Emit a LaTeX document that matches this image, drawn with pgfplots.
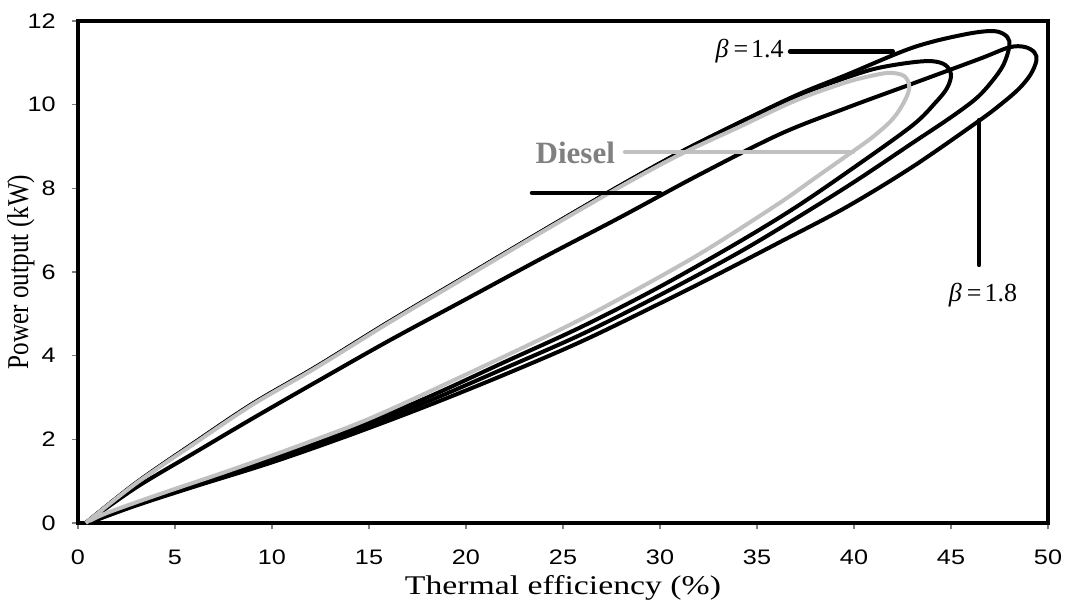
\documentclass[border=0pt]{standalone}
\usepackage{pgfplots}
\pgfplotsset{compat=1.18}
\usepackage{fontspec}
\setmainfont{Liberation Serif}
\newfontfamily\arial{Liberation Sans}
\definecolor{lgray}{RGB}{192,192,192}
\definecolor{tgray}{RGB}{128,128,128}
\begin{document}
\begin{tikzpicture}
\begin{axis}[
  width=485pt, height=251pt, scale only axis,
  xmin=0, xmax=50, ymin=0, ymax=12,
  xtick={0,5,...,50}, ytick={0,2,...,12},
  axis line style={line width=2pt},
  tick align=outside, tick pos=left,
  major tick length=3.2pt,
  tick style={gray, line width=0.6pt},
  ticklabel style={font=\arial\fontsize{10.5}{12}\selectfont},
  /pgf/number format/assume math mode=true,
  xticklabel={\scalebox{1.2}[1]{\pgfmathprintnumber{\tick}}},
  yticklabel={\scalebox{1.2}[1]{\pgfmathprintnumber{\tick}}},
  xticklabel style={text height=7.6pt, text depth=0pt, yshift=-6.3pt},
  yticklabel style={xshift=-4.5pt},
  xlabel={\scalebox{1.25}[1]{Thermal efficiency (\%)}},
  ylabel={\scalebox{1}[1.2]{Power output (kW)}},
  xlabel style={font=\fontsize{13.5}{15}\selectfont, at={(axis description cs:0.5,-0.13)}, anchor=center},
  ylabel style={font=\fontsize{12.6}{14}\selectfont, at={(axis description cs:-0.059,0.5)}, anchor=center, rotate=0},
  every axis plot/.append style={line width=2pt, smooth, tension=0.55, mark=none},
  clip=false,
]
% L2 (rightmost loop)
\addplot[black] coordinates {
(0.4,0) (3,0.85) (6.08,1.70) (9,2.5) (12.27,3.37) (16,4.35) (20,5.35) (24,6.35) (28,7.32) (32,8.32) (36.2,9.3) (39.6,9.92) (43,10.5) (46.5,11.1) (48.0,11.37) (48.8,11.38) (49.3,11.25) (49.4,11.05) (49.1,10.72) (48.5,10.38) (47.6,10.02) (46.4,9.6) (43,8.51) (39.6,7.55) (36.2,6.72) (33,5.95) (30,5.25) (26,4.35) (22,3.55) (18,2.8) (14,2.1) (10,1.45) (6,0.87) (3,0.42) (0.8,0.05)
};
% L3 (small loop)
\addplot[black] coordinates {
(0.4,0) (3,0.96) (6,1.92) (9,2.85) (12.3,3.74) (16,4.8) (20,5.9) (24,7.0) (28,8.08) (31,8.85) (34,9.55) (37,10.2) (39,10.55) (41,10.85) (42.8,11.0) (44.0,11.04) (44.7,10.95) (45.0,10.72) (44.8,10.4) (44.2,10.05) (43,9.5) (40,8.5) (37,7.55) (34,6.7) (30,5.65) (26,4.7) (22,3.85) (18,3.0) (14,2.23) (10,1.55) (6,0.93) (3,0.45) (0.7,0.05)
};
% L1 (tallest loop)
\addplot[black] coordinates {
(0.4,0) (3,0.96) (6,1.92) (9,2.85) (12.3,3.74) (16,4.8) (20,5.9) (24,7.0) (28,8.08) (31,8.85) (34,9.55) (37,10.22) (39.6,10.71) (43,11.36) (45.6,11.67) (47.2,11.76) (47.9,11.62) (48.0,11.38) (47.7,10.95) (47.1,10.55) (46.3,10.15) (45,9.7) (43,9.08) (40,8.15) (37,7.28) (34,6.45) (30,5.45) (26,4.52) (22,3.7) (18,2.9) (14,2.17) (10,1.5) (6,0.9) (3,0.43) (0.8,0.05)
};
% Diesel
\addplot[lgray] coordinates {
(0.4,0) (3,0.95) (6,1.9) (9,2.83) (12.3,3.72) (16,4.78) (20,5.88) (24,6.98) (28,8.05) (31,8.8) (34,9.45) (37,10.1) (39.5,10.52) (41,10.7) (41.9,10.76) (42.6,10.68) (42.85,10.42) (42.6,10.08) (42.0,9.66) (41.0,9.24) (39.9,8.87) (38,8.25) (36,7.6) (32,6.42) (28,5.38) (24.8,4.61) (20,3.55) (15.2,2.53) (11.75,1.91) (7.9,1.27) (4.4,0.72) (1.6,0.26) (0.6,0.05)
};
% leader lines
\addplot[black, sharp plot, line width=2.2pt, line cap=round] coordinates {(36.7,11.27) (42.0,11.27)};
\addplot[black, sharp plot, line width=2.2pt, line cap=round] coordinates {(46.44,9.63) (46.44,6.17)};
\addplot[black, sharp plot, line width=2.2pt, line cap=round] coordinates {(23.4,7.89) (30.0,7.89)};
\addplot[lgray, sharp plot, line width=2.2pt, line cap=round] coordinates {(28.2,8.87) (39.95,8.87)};
\node[anchor=east, font=\fontsize{13}{15}\selectfont, inner sep=1pt] at (axis cs:36.5,11.27) {\textit{β}\hspace{2.5pt}=\hspace{1.5pt}1.4};
\node[anchor=center, font=\fontsize{13}{15}\selectfont] at (axis cs:46.65,5.45) {\textit{β}\hspace{2.5pt}=\hspace{1.5pt}1.8};
\node[anchor=east, font=\bfseries\fontsize{15.5}{17}\selectfont, text=tgray, inner sep=1pt] at (axis cs:27.8,8.85) {Diesel};
\end{axis}
\pgfresetboundingbox
\path ([shift={(-39pt,-38.5pt)}]current axis.south west) rectangle ([shift={(9.5pt,10.5pt)}]current axis.north east);
\end{tikzpicture}
\end{document}
